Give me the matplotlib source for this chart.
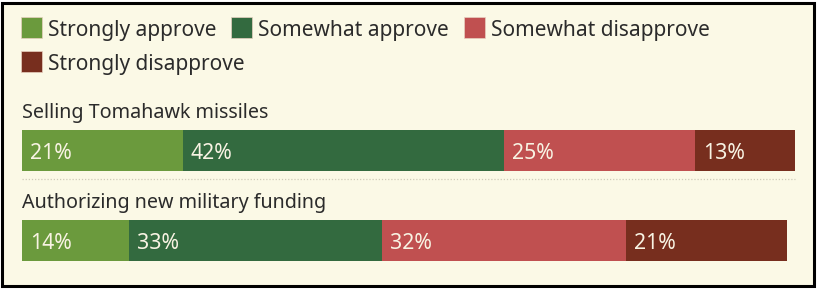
import matplotlib
matplotlib.use("Agg")
import matplotlib.pyplot as plt
from matplotlib.patches import Rectangle

# data
questions = ["Selling Tomahawk missiles", "Authorizing new military funding"]
categories = ["Strongly approve", "Somewhat approve", "Somewhat disapprove", "Strongly disapprove"]
strongly_approve = [21, 14]
somewhat_approve = [42, 33]
somewhat_disapprove = [25, 32]
strongly_disapprove = [13, 21]
colors = ["#6b9a3d", "#336a3f", "#c05050", "#772e1e"]

W, H = 817, 289
BG = "#fbf9e6"
TXT = "#2b2b2b"
plt.rcParams['font.family'] = ['Noto Sans', 'DejaVu Sans']
FS = 15

fig = plt.figure(figsize=(W / 100, H / 100), dpi=100, facecolor="white")
ax = fig.add_axes([0, 0, 1, 1])
ax.set_axis_off()
ax.patch.set_alpha(0)

# frame box
fig.patches.append(Rectangle((2 / W, 1 - 286 / H), 812 / W, 283 / H, transform=fig.transFigure,
                             facecolor=BG, edgecolor="black", linewidth=2.2, zorder=-1))

# scales: 7.65 px per percent, bars start at x=22px; 90 px per row, first row centred at 150.5px
px_per = 7.65
ax.set_xlim(-22 / px_per, (W - 22) / px_per)
ax.set_ylim((H - 150.5) / 90, -150.5 / 90)

series = [strongly_approve, somewhat_approve, somewhat_disapprove, strongly_disapprove]
rows = list(range(len(questions)))
left = [0] * len(questions)
for vals, col in zip(series, colors):
    ax.barh(rows, vals, left=left, height=41 / 90, color=col, linewidth=0)
    for r, v, l in zip(rows, vals, left):
        ax.text(l + 8 / px_per, r + 8.8 / 90, f"{v}%", color="#f8f3e3", fontsize=FS + 0.3,
                va="baseline", ha="left")
    left = [l + v for l, v in zip(left, vals)]

totals = left
for r, q in zip(rows, questions):
    ax.text(0, r - 32.2 / 90, q, color=TXT, fontsize=14.2, va="baseline", ha="left")
    if r < len(questions) - 1:
        ax.plot([0, max(totals)], [r + 28.8 / 90, r + 28.8 / 90], color="#cfcbb8",
                linestyle=(0, (1, 1.5)), linewidth=0.9)

# legend laid out as flowing items
renderer = fig.canvas.get_renderer()
x, y = 20.5, 17.5
for i, (cat, col) in enumerate(zip(categories, colors)):
    if i == 3:
        x, y = 20.5, 51.5
    fig.patches.append(Rectangle((x / W, 1 - (y + 20) / H), 21 / W, 20 / H,
                                 transform=fig.transFigure, facecolor=col, edgecolor="#e8d0c0",
                                 linewidth=0.5))
    t = fig.text((x + 27) / W, 1 - (y + 18.5) / H, cat, color=TXT, fontsize=FS, va="baseline")
    bb = t.get_window_extent(renderer)
    x = x + 27 + bb.width + 15

fig.savefig("out.png", dpi=100, facecolor="white")
